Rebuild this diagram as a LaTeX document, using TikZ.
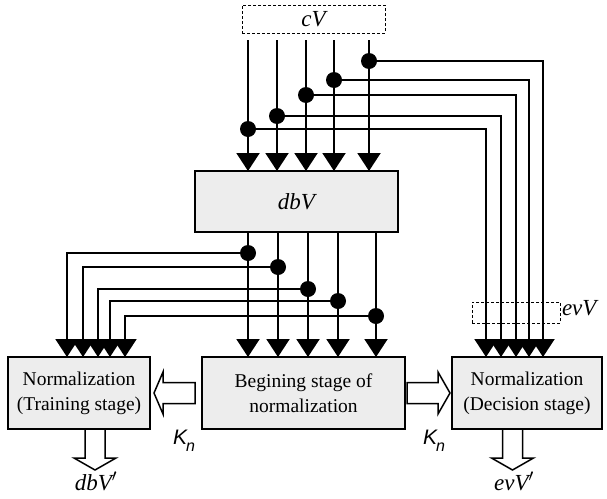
\documentclass[tikz,border=0pt]{standalone}
\usepackage{fontspec}
\setmainfont{Liberation Serif}
\newfontfamily\ksans{Liberation Sans}
\usetikzlibrary{arrows.meta,positioning,calc}

\begin{document}
\begin{tikzpicture}[x=1pt,y=-1pt,line width=2pt,
	blk/.style={draw, fill=black!7, minimum width=#1, minimum height=72pt, inner sep=0pt, outer sep=0pt, align=center, font=\fontsize{19.5}{25}\selectfont},
	dbox/.style={draw, densely dashed, line width=0.8pt, inner sep=0pt, outer sep=0pt},
	vlab/.style={font=\fontsize{23}{23}\selectfont\itshape},
	klab/.style={font=\fontsize{21}{21}\selectfont\ksans\itshape, inner sep=0pt},
	arr/.style={-{Triangle[width=23pt,length=18pt]}},
	hollow/.style={draw, line width=1.5pt, fill=white, line join=miter}]
\useasboundingbox (0,0) rectangle (607,498);

% blocks
\node[dbox, minimum width=143pt, minimum height=28pt, vlab] (cv) at (313.5,19) {cV};
\node[blk=203pt, minimum height=61pt, vlab] (dbv) at (296.5,201.5) {dbV};
\node[blk=203pt] (bgn) at (303.5,393) {Begining stage of\\normalization};
\node[blk=142pt, left=52pt of bgn] (train) {Normalization\\(Training stage)};
\node[blk=150pt, right=47pt of bgn] (decide) {Normalization\\(Decision stage)};

% cV into dbV, taps round to decision stage
\foreach \xa/\ya/\xr [count=\i] in {248/129/486,277/116/501,306/95/516,334/80/529,369/61/543}{
	\coordinate (t\i) at (\xa,40);
	\coordinate (j\i) at (\xa,\ya);
	\coordinate (e\i) at (\xr,0);
	\draw[arr] (t\i) -- (t\i |- dbv.north);
	\draw[arr] (j\i) -| (e\i |- decide.north);
	\fill (j\i) circle (8pt);
}

% dbV into first stage, taps round to training stage
\foreach \xa/\ya/\xl [count=\i] in {248/253/67,278/267/83,308/289/98,338/301/110,376/316/125}{
	\coordinate (s\i) at (\xa,0);
	\coordinate (k\i) at (\xa,\ya);
	\coordinate (w\i) at (\xl,0);
	\draw[arr] (s\i |- dbv.south) -- (s\i |- bgn.north);
	\draw[arr] (k\i) -| (w\i |- train.north);
	\fill (k\i) circle (8pt);
}

% evV window
\node[dbox, minimum width=88pt, minimum height=21pt] (evv) at (516,312.5) {};
\node[vlab, anchor=west, inner sep=1pt] (evvl) at ([yshift=4pt]evv.east) {evV};

% hollow arrows
\coordinate (hl) at ([xshift=-7pt]bgn.west);
\draw[hollow] (hl) ++(0,-10.5) -- ++(-32,0) -- ++(0,-10.5) -- ++(-9,21) -- ++(9,21) -- ++(0,-10.5) -- ++(32,0) -- cycle;
\coordinate (hr) at ([xshift=2pt]bgn.east);
\draw[hollow] (hr) ++(0,-10.5) -- ++(31,0) -- ++(0,-10.5) -- ++(12,21) -- ++(-12,21) -- ++(0,-10.5) -- ++(-31,0) -- cycle;
\coordinate (dl) at ([xshift=16pt]train.south);
\draw[hollow] (dl) ++(-10,0) -- ++(0,29) -- ++(-11,0) -- ++(21,12) -- ++(21,-12) -- ++(-11,0) -- ++(0,-29) -- cycle;
\coordinate (dr) at ([xshift=-14.5pt]decide.south);
\draw[hollow] (dr) ++(-10,0) -- ++(0,29) -- ++(-11,0) -- ++(21,12) -- ++(21,-12) -- ++(-11,0) -- ++(0,-29) -- cycle;

% labels
\node[klab] (kl) at (184,441) {K\kern-1pt\raisebox{-7pt}{\fontsize{16}{16}\selectfont n}};
\node[klab] (kr) at (434,441) {K\kern-1pt\raisebox{-7pt}{\fontsize{16}{16}\selectfont n}};
\node[vlab] (dbvp) at (96,481) {dbV$'$};
\node[vlab] (evvp) at (514,481) {evV$'$};

\end{tikzpicture}
\end{document}
